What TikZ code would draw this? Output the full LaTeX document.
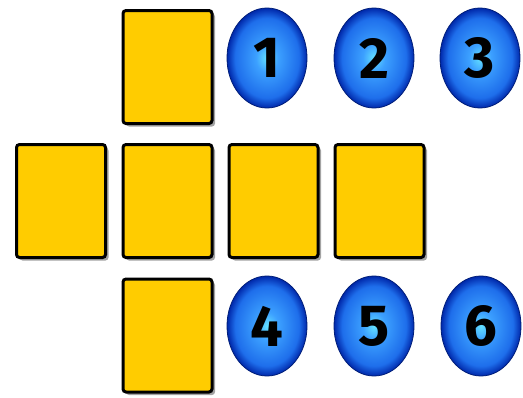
\documentclass[tikz,border=0pt]{standalone}
\usepackage{fontspec}
\usepackage{xcolor}
\usepackage{tikz}
\usetikzlibrary{shadows, shapes.geometric}
\newfontfamily\ballfont{Fira Sans}

\definecolor{cardfill}{RGB}{255,204,0}
\definecolor{ballin}{RGB}{100,225,255}
\definecolor{ballmid}{RGB}{60,160,255}
\definecolor{ballrim}{RGB}{30,110,235}
\definecolor{ballout}{RGB}{0,40,170}
\definecolor{ballline}{RGB}{0,30,120}
\pgfdeclareradialshading{ballshade}{\pgfpointorigin}{color(0bp)=(ballin); color(7bp)=(ballmid); color(20bp)=(ballrim); color(25bp)=(ballout); color(50bp)=(ballout)}

\begin{document}
\begin{tikzpicture}[
  x=1pt, y=-1pt,
  card/.style={draw=black, line width=3pt, fill=cardfill, rounded corners=3pt,
    minimum width=89pt, minimum height=113pt, inner sep=0pt,
    drop shadow={shadow xshift=3pt, shadow yshift=-3pt, fill=black!60, opacity=.6}},
  ball/.style={ellipse, draw=ballline, line width=0.8pt, shading=ballshade,
    minimum width=80pt, minimum height=100pt, inner sep=0pt,
    font=\ballfont\bfseries\fontsize{58}{58}\selectfont},
]
  \useasboundingbox (0,0) rectangle (523,397);

  % cards of the net
  \node[card] (top) at (167.5,67) {};
  \node[card] (midA) at (61,201) {};
  \node[card] (midB) at (167.5,201) {};
  \node[card] (midC) at (273.5,201) {};
  \node[card] (midD) at (379.5,201) {};
  \node[card] (bottom) at (167.5,335.5) {};

  % numbered balls
  \foreach \x/\y/\l in {267/58/1, 374/58/2, 480/58/3, 267/326/4, 374/326/5, 481/326/6} {
    \node[ball] (ball\l) at (\x,\y) {\l};
  }
\end{tikzpicture}
\end{document}
